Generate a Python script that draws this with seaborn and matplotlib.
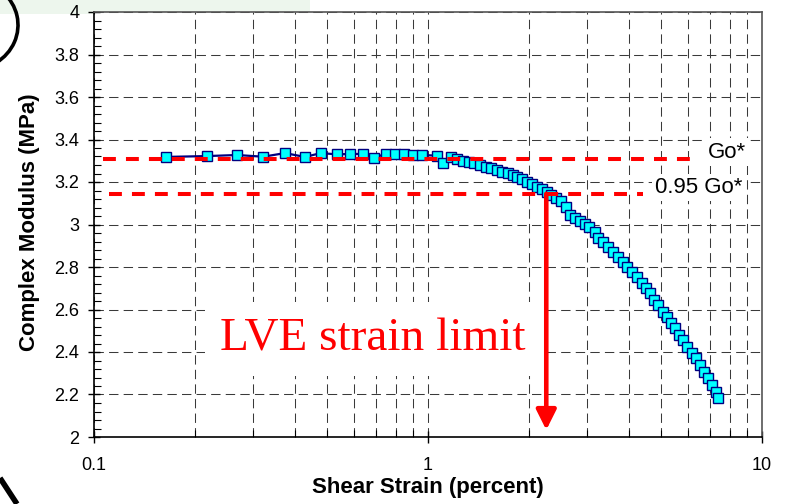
import numpy as np
import pandas as pd
import matplotlib
matplotlib.use("Agg")
import matplotlib.pyplot as plt
import seaborn as sns
from matplotlib.ticker import FixedLocator, LogLocator, MultipleLocator, NullFormatter
from matplotlib.patches import Rectangle, Arc
from matplotlib.lines import Line2D
from matplotlib.transforms import IdentityTransform

# Strain sweep: shear strain (%) and complex modulus (MPa)
strain = [0.164, 0.218, 0.268, 0.321, 0.373, 0.428, 0.478, 0.534, 0.584, 0.639,
          0.689, 0.748, 0.796, 0.848, 0.902, 0.959, 1.064, 1.11, 1.17, 1.22,
          1.27, 1.33, 1.37, 1.43, 1.49, 1.54, 1.61, 1.67, 1.73, 1.80,
          1.85, 1.91, 1.98, 2.05, 2.12, 2.19, 2.27, 2.34, 2.42, 2.50,
          2.59, 2.66, 2.76, 2.85, 2.95, 3.03, 3.16, 3.23, 3.34, 3.46,
          3.58, 3.71, 3.84, 3.94, 4.08, 4.23, 4.37, 4.50, 4.62, 4.75,
          4.89, 5.06, 5.20, 5.35, 5.49, 5.65, 5.81, 5.97, 6.17, 6.34,
          6.52, 6.70, 6.89, 7.08, 7.28, 7.38]
modulus = [3.318, 3.322, 3.327, 3.319, 3.336, 3.318, 3.336, 3.330, 3.332, 3.332,
           3.315, 3.332, 3.332, 3.332, 3.327, 3.327, 3.324, 3.289, 3.318, 3.310,
           3.300, 3.294, 3.288, 3.282, 3.270, 3.265, 3.256, 3.249, 3.241, 3.231,
           3.222, 3.213, 3.201, 3.190, 3.178, 3.166, 3.153, 3.137, 3.125, 3.110,
           3.084, 3.045, 3.030, 3.016, 3.002, 2.988, 2.965, 2.936, 2.918, 2.894,
           2.871, 2.847, 2.824, 2.800, 2.776, 2.753, 2.725, 2.700, 2.678, 2.645,
           2.621, 2.588, 2.565, 2.536, 2.513, 2.480, 2.456, 2.424, 2.395, 2.372,
           2.339, 2.306, 2.278, 2.245, 2.212, 2.184]

go_star = 3.31          # initial (plateau) modulus
lve_strain = 2.26       # strain where modulus drops to 0.95 Go*

x_ticks = [0.1, 1, 10]
x_tick_labels = ["0.1", "1", "10"]
y_ticks = [2.0, 2.2, 2.4, 2.6, 2.8, 3.0, 3.2, 3.4, 3.6, 3.8, 4.0]
y_tick_labels = ["2", "2.2", "2.4", "2.6", "2.8", "3", "3.2", "3.4", "3.6", "3.8", "4"]

df = pd.DataFrame({"strain": strain, "modulus": modulus})

sns.set_theme(style="white")
plt.rcParams["font.family"] = ["Liberation Sans", "DejaVu Sans"]

W, H = 787, 504
fig = plt.figure(figsize=(W / 100, H / 100), dpi=100)
fig.patch.set_facecolor("white")

# pale strip along the top-left edge
fig.patches.append(Rectangle((0, 1 - 14 / H), 310 / W, 14 / H,
                             transform=fig.transFigure, facecolor="#edf6ed",
                             edgecolor="none", zorder=-1))

ax = fig.add_axes([94 / W, (H - 437) / H, 668 / W, 425 / H])
ax.set_facecolor("white")

grid_kw = dict(color="#3a3a3a", linewidth=0.75, linestyle=(0, (9, 5)))

sns.lineplot(data=df, x="strain", y="modulus", ax=ax, sort=False, estimator=None,
             color="#000080", linewidth=1.6, marker="s", markersize=7.5,
             markerfacecolor="#00ffff", markeredgecolor="#000080",
             markeredgewidth=1.0, zorder=3)

ax.set_xscale("log")
ax.set_xlim(0.1, 10)
ax.set_ylim(2, 4)

ax.xaxis.set_major_locator(FixedLocator(x_ticks))
ax.set_xticklabels(x_tick_labels)
ax.xaxis.set_minor_locator(LogLocator(base=10, subs=np.arange(2, 10)))
ax.xaxis.set_minor_formatter(NullFormatter())
ax.yaxis.set_major_locator(FixedLocator(y_ticks))
ax.set_yticklabels(y_tick_labels)
ax.yaxis.set_minor_locator(MultipleLocator(0.04))

ax.tick_params(axis="both", which="major", direction="inout", length=9, width=1,
               color="black", labelsize=13, labelcolor="black")
ax.tick_params(axis="x", which="major", pad=10)
ax.tick_params(axis="y", which="major", pad=6)
ax.tick_params(axis="both", which="minor", direction="in", length=5, width=0.8,
               color="black")
ax.tick_params(bottom=True, left=True, which="both")

ax.grid(True, axis="x", which="both", **grid_kw)
ax.grid(True, axis="y", which="major", **grid_kw)
ax.set_axisbelow(True)

for side in ["left", "bottom"]:
    ax.spines[side].set_color("black")
    ax.spines[side].set_linewidth(1.2)
for side in ["top", "right"]:
    ax.spines[side].set_color("#555555")
    ax.spines[side].set_linewidth(1.2)

ax.set_xlabel("Shear Strain (percent)", fontsize=16, fontweight="bold", color="black")
ax.set_ylabel("Complex Modulus (MPa)", fontsize=16, fontweight="bold", color="black")
ax.xaxis.set_label_coords(0.5, -0.12)
ax.xaxis.label.set_va("center")
ax.yaxis.set_label_coords(-0.096, 0.505)
ax.yaxis.label.set_va("center")

# Go* and 0.95 Go* reference lines
red_dash = dict(color="#ff0000", linewidth=2.9, linestyle=(0, (3.2, 2.5)), zorder=4)
ax.plot([0.1064, 6.30], [go_star, go_star], **red_dash)
ax.plot([0.1109, 4.41], [0.95 * go_star, 0.95 * go_star], **red_dash)
label_box = dict(boxstyle="square,pad=0.15", facecolor="white", edgecolor="none")
ax.text(0.919, (go_star + 0.03 - 2) / 2, "Go*", transform=ax.transAxes,
        fontsize=16, va="center", ha="left", color="black", zorder=5, bbox=label_box)
ax.text(0.84, (0.95 * go_star + 0.03 - 2) / 2, "0.95 Go*", transform=ax.transAxes,
        fontsize=16, va="center", ha="left", color="black", zorder=5, bbox=label_box)

# arrow down from the 0.95 Go* crossing
ax.annotate("", xy=(lve_strain, 2.033), xytext=(lve_strain, 0.95 * go_star),
            arrowprops=dict(arrowstyle="-|>,head_length=1.0,head_width=0.5",
                            color="#ff0000", lw=3.3, mutation_scale=12,
                            shrinkA=0, shrinkB=0),
            zorder=4)

ax.text(0.418, 0.2047, "LVE strain limit", transform=ax.transAxes,
        fontsize=34, family=["Liberation Serif", "DejaVu Serif"], color="#ff0000",
        ha="center", va="baseline", zorder=6,
        bbox=dict(boxstyle="square,pad=0.33", facecolor="white", edgecolor="none"))

# decorative strokes along the left edge
fig.add_artist(Arc((-30, H - 25), 96, 90, theta1=-55, theta2=80,
                   transform=IdentityTransform(), color="black", linewidth=2.6))
fig.add_artist(Line2D([0, 17], [26, 0], transform=IdentityTransform(),
                      color="black", linewidth=4.0, solid_capstyle="butt"))

fig.savefig("out.png", dpi=100)
